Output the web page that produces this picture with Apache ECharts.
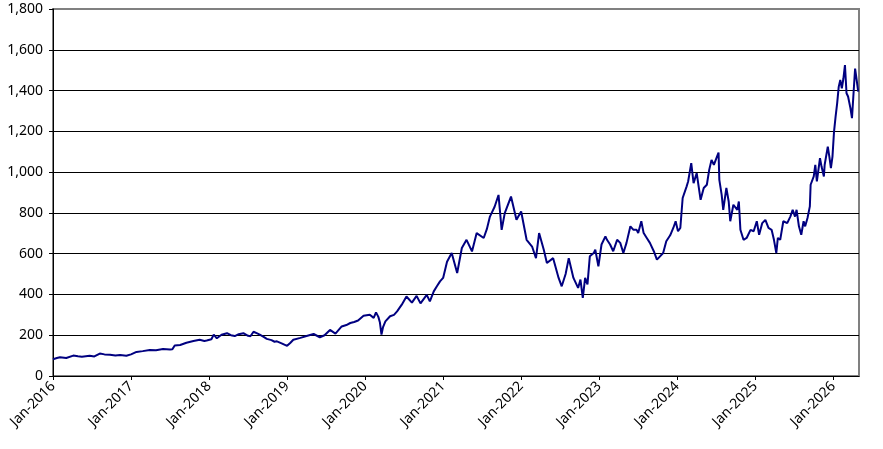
<!DOCTYPE html>
<html>
<head>
<meta charset="utf-8">
<script src="https://cdn.jsdelivr.net/npm/echarts@6/dist/echarts.min.js"></script>
<style>
  html, body { margin: 0; padding: 0; background: #fff; }
  #chart { width: 883px; height: 449px; }
</style>
</head>
<body>
<div id="chart"></div>
<script>
// x in decimal years (2016.5 = mid 2016), y = index level
var dates = [
  2016.00, 2016.05, 2016.09, 2016.17, 2016.26, 2016.32, 2016.37, 2016.47, 2016.53, 2016.60,
  2016.66, 2016.73, 2016.80, 2016.86, 2016.94, 2017.00, 2017.07, 2017.15, 2017.24, 2017.32,
  2017.41, 2017.50, 2017.53, 2017.56, 2017.63, 2017.71, 2017.80, 2017.88, 2017.94, 2017.97,
  2018.03, 2018.06, 2018.10, 2018.16, 2018.23, 2018.28, 2018.33, 2018.38, 2018.44, 2018.50,
  2018.53, 2018.57, 2018.61, 2018.65, 2018.70, 2018.74, 2018.80, 2018.84, 2018.87, 2018.93,
  2019.00, 2019.04, 2019.08, 2019.17, 2019.25, 2019.34, 2019.42, 2019.48, 2019.55, 2019.62,
  2019.70, 2019.76, 2019.81, 2019.86, 2019.91, 2019.98, 2020.06, 2020.11, 2020.14, 2020.17,
  2020.19, 2020.21, 2020.23, 2020.26, 2020.32, 2020.37, 2020.41, 2020.47, 2020.53, 2020.60,
  2020.66, 2020.71, 2020.79, 2020.83, 2020.88, 2020.92, 2020.96, 2021.00, 2021.05, 2021.11,
  2021.18, 2021.24, 2021.30, 2021.37, 2021.43, 2021.52, 2021.56, 2021.60, 2021.66, 2021.71,
  2021.75, 2021.79, 2021.87, 2021.94, 2022.00, 2022.07, 2022.14, 2022.19, 2022.23, 2022.29,
  2022.33, 2022.41, 2022.48, 2022.52, 2022.57, 2022.61, 2022.67, 2022.73, 2022.76, 2022.79,
  2022.82, 2022.85, 2022.88, 2022.93, 2022.95, 2022.99, 2023.03, 2023.08, 2023.10, 2023.14,
  2023.18, 2023.23, 2023.27, 2023.31, 2023.35, 2023.40, 2023.44, 2023.48, 2023.50, 2023.54,
  2023.57, 2023.61, 2023.65, 2023.70, 2023.74, 2023.78, 2023.82, 2023.86, 2023.91, 2023.95,
  2023.98, 2024.01, 2024.04, 2024.07, 2024.12, 2024.14, 2024.18, 2024.21, 2024.25, 2024.27,
  2024.30, 2024.34, 2024.38, 2024.41, 2024.44, 2024.47, 2024.51, 2024.53, 2024.54, 2024.57,
  2024.59, 2024.63, 2024.66, 2024.68, 2024.72, 2024.77, 2024.79, 2024.81, 2024.85, 2024.89,
  2024.94, 2024.98, 2025.02, 2025.05, 2025.09, 2025.13, 2025.17, 2025.21, 2025.24, 2025.27,
  2025.29, 2025.32, 2025.36, 2025.41, 2025.45, 2025.48, 2025.51, 2025.53, 2025.56, 2025.59,
  2025.62, 2025.64, 2025.67, 2025.70, 2025.71, 2025.75, 2025.77, 2025.79, 2025.83, 2025.85,
  2025.88, 2025.89, 2025.93, 2025.95, 2025.97, 2025.99, 2026.01, 2026.03, 2026.05, 2026.07,
  2026.09, 2026.11, 2026.13, 2026.15, 2026.17, 2026.19, 2026.22, 2026.24, 2026.26, 2026.28,
  2026.30, 2026.32
];
var prices = [
    82,   88,   92,   88,  100,   97,   95,   99,   96,  110,
   106,  104,  100,  103,   99,  106,  118,  122,  128,  126,
   132,  130,  131,  150,  152,  163,  172,  178,  172,  174,
   180,  203,  185,  202,  210,  200,  196,  205,  210,  197,
   195,  217,  210,  203,  192,  182,  176,  168,  170,  160,
   148,  162,  178,  187,  196,  206,  190,  200,  226,  208,
   243,  250,  260,  265,  272,  295,  300,  285,  312,  290,
   262,  203,  240,  268,  293,  300,  317,  350,  390,  360,
   393,  356,  398,  366,  415,  440,  464,  481,  560,  603,
   505,  628,  668,  611,  701,  677,  720,  782,  830,  888,
   717,  799,  880,  766,  807,  668,  635,  578,  701,  619,
   554,  578,  481,  440,  500,  578,  481,  432,  473,  383,
   481,  449,  587,  603,  620,  538,  645,  685,  668,  645,
   612,  668,  653,  603,  653,  734,  717,  717,  701,  759,
   701,  677,  653,  612,  571,  587,  603,  661,  690,  726,
   759,  710,  726,  873,  929,  954, 1044,  946,  995,  987,
   864,  922,  938, 1011, 1060, 1036, 1076, 1096,  962,  888,
   815,  922,  856,  759,  840,  815,  856,  717,  668,  677,
   717,  710,  759,  693,  750,  766,  726,  717,  668,  603,
   677,  668,  759,  750,  782,  815,  782,  815,  734,  693,
   759,  734,  775,  832,  938,  979, 1036,  954, 1068, 1027,
   979, 1036, 1125, 1076, 1019, 1076, 1199, 1272, 1337, 1418,
  1452, 1411, 1459, 1525, 1387, 1371, 1314, 1265, 1387, 1508,
  1452, 1395
];

var xStart = 2016, xEnd = 2026.33;
var yMin = 0, yMax = 1800, yStep = 200;

var seriesData = [];
for (var i = 0; i < dates.length; i++) {
  seriesData.push([dates[i], prices[i]]);
}

var chart = echarts.init(document.getElementById('chart'));

var labelFont = {
  color: '#000',
  fontFamily: 'Noto Sans',
  fontSize: 14
};

var option = {
  animation: false,
  backgroundColor: '#fff',
  grid: {
    left: 53,
    right: 24,
    top: 9,
    bottom: 73,
    outerBoundsMode: 'none',
    show: true,
    borderColor: '#808080',
    borderWidth: 2,
    backgroundColor: 'transparent'
  },
  xAxis: {
    type: 'value',
    min: xStart,
    max: xEnd,
    interval: 1,
    axisLine: { show: true, lineStyle: { color: '#000', width: 1 } },
    axisTick: { show: true, length: 4, lineStyle: { color: '#000' } },
    splitLine: { show: false },
    axisLabel: Object.assign({
      rotate: 45,
      margin: 8,
      showMaxLabel: false,
      formatter: function (v) {
        return Math.abs(v - Math.round(v)) < 1e-6 ? 'Jan-' + Math.round(v) : '';
      }
    }, labelFont)
  },
  yAxis: {
    type: 'value',
    min: yMin,
    max: yMax,
    interval: yStep,
    axisLine: { show: true, lineStyle: { color: '#000', width: 1 } },
    axisTick: { show: true, length: 4, lineStyle: { color: '#000' } },
    splitLine: {
      show: true,
      showMinLine: false,
      showMaxLine: false,
      lineStyle: { color: '#000', width: 1 }
    },
    axisLabel: Object.assign({
      margin: 10,
      formatter: function (v) { return v.toLocaleString('en-US'); }
    }, labelFont)
  },
  series: [{
    type: 'line',
    data: seriesData,
    showSymbol: false,
    symbol: 'none',
    lineStyle: { color: '#000080', width: 2 },
    itemStyle: { color: '#000080' }
  }]
};

chart.setOption(option);
</script>
</body>
</html>
